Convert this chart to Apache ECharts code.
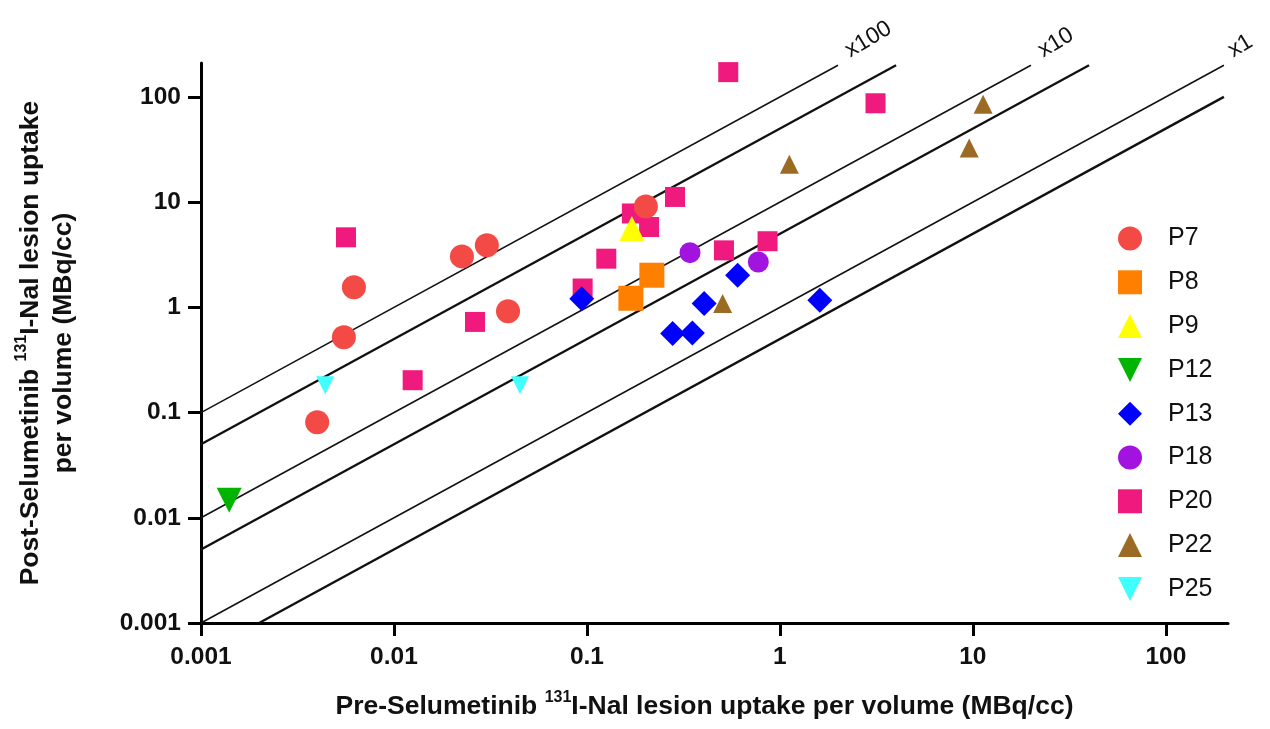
<!DOCTYPE html>
<html>
<head>
<meta charset="utf-8">
<script src="https://cdn.jsdelivr.net/npm/echarts@6/dist/echarts.min.js"></script>
<style>
  html, body { margin: 0; padding: 0; background: #fff; }
  #chart { width: 1270px; height: 729px; }
</style>
</head>
<body>
<div id="chart"></div>
<script>
// values: [pre, post] in MBq/cc
var P7 = [[0.0040, 0.081], [0.0055, 0.52], [0.0062, 1.55], [0.0225, 3.05], [0.0303, 3.9], [0.039, 0.92], [0.202, 9.1]];
var P8 = [[0.217, 2.02], [0.169, 1.22]];
var P9 = [[0.171, 5.6]];
var P12 = [[0.0014, 0.0147]];
var P13 = [[0.094, 1.21], [0.278, 0.565], [0.352, 0.57], [0.405, 1.09], [0.604, 2.02], [1.61, 1.17]];
var P18 = [[0.342, 3.31], [0.773, 2.70]];
var P20 = [[0.00564, 4.63], [0.0125, 0.203], [0.0263, 0.727], [0.095, 1.51], [0.126, 2.9], [0.171, 7.8],
           [0.21, 5.8], [0.286, 11.2], [0.513, 3.48], [0.863, 4.25], [0.54, 172], [3.13, 87]];
var P22 = [[11.3, 85], [9.57, 32.7], [1.12, 22.9], [0.505, 1.09]];
var P25 = [[0.0044, 0.182], [0.045, 0.182]];

var legendNames = ['P7', 'P8', 'P9', 'P12', 'P13', 'P18', 'P20', 'P22', 'P25'];
var tickValues = [0.001, 0.01, 0.1, 1, 10, 100];
var tickLabels = ['0.001', '0.01', '0.1', '1', '10', '100'];

// reference lines y = k * x
var thinLines = [1, 10, 100];
var thickLines = [0.5, 5, 50];
var lineTop = 200;
var axisMin = 0.001, axisMax = 210;

var font = 'Arial, "Liberation Sans", sans-serif';
var downTriangle = 'path://M0,0 L20,0 L10,20 Z';

function fmtTick(v) {
  for (var i = 0; i < tickValues.length; i++) {
    if (Math.abs(v - tickValues[i]) / tickValues[i] < 1e-6) return tickLabels[i];
  }
  return '';
}

function refLine(k, width) {
  var x0 = Math.max(axisMin, axisMin / k);
  var x1 = Math.min(lineTop, lineTop / k);
  return {
    type: 'line',
    data: [[x0, x0 * k], [x1, x1 * k]],
    symbol: 'none',
    silent: true,
    z: 1,
    lineStyle: { color: '#111', width: width },
    animation: false
  };
}

var chart = echarts.init(document.getElementById('chart'), null, { renderer: 'canvas' });

var series = [];
thinLines.forEach(function(k) { series.push(refLine(k, 1.5)); });
thickLines.forEach(function(k) { series.push(refLine(k, 2.4)); });

function pts(name, data, symbol, size, color) {
  return {
    name: name,
    type: 'scatter',
    data: data,
    symbol: symbol,
    symbolSize: size,
    itemStyle: { color: color, opacity: 1 },
    z: 3
  };
}

// P20 first so the other markers sit on top of it
series.push(pts('P20', P20, 'rect', 20, '#F0197D'));
series.push(pts('P7', P7, 'circle', 24, '#F44A46'));
series.push(pts('P8', P8, 'rect', 25, '#FF7F00'));
series.push(pts('P9', P9, 'triangle', 25, '#FFFF00'));
series.push(pts('P12', P12, downTriangle, 25, '#00B400'));
series.push(pts('P13', P13, 'diamond', 25, '#0000FF'));
series.push(pts('P18', P18, 'circle', 21, '#A313E0'));
series.push(pts('P22', P22, 'triangle', 19, '#9B6B23'));
series.push(pts('P25', P25, downTriangle, 18, '#40FFFF'));

var richName = {
  b: { fontFamily: font, fontWeight: 'bold', fontSize: 26.5, color: '#111', lineHeight: 33 },
  s: { fontFamily: font, fontWeight: 'bold', fontSize: 16, color: '#111', verticalAlign: 'top', lineHeight: 33 }
};

function axisBase() {
  return {
    type: 'log',
    logBase: 10,
    min: axisMin,
    max: axisMax,
    splitLine: { show: false },
    minorTick: { show: false },
    axisLine: { show: true, lineStyle: { color: '#000', width: 3 } },
    axisTick: { show: true, length: 13, lineStyle: { color: '#000', width: 3 } },
    axisLabel: {
      margin: 20,
      fontFamily: font,
      fontWeight: 'bold',
      fontSize: 24.5,
      color: '#111',
      showMaxLabel: false,
      formatter: fmtTick
    },
    nameLocation: 'middle',
    nameTextStyle: { rich: richName }
  };
}

var xAxis = axisBase();
xAxis.name = '{b|Pre-Selumetinib }{s|131}{b|I-Nal lesion uptake per volume (MBq/cc)}';
xAxis.nameGap = 67;
xAxis.nameTextStyle.padding = [0, 20, 0, 0];
xAxis.axisLabel.margin = 22;

var yAxis = axisBase();
yAxis.name = '{b|Post-Selumetinib }{s|131}{b|I-Nal lesion uptake}\n{b|per volume (MBq/cc)}';
yAxis.nameGap = 121;
yAxis.nameRotate = 90;

chart.setOption({
  animation: false,
  backgroundColor: '#fff',
  grid: { left: 201, right: 42, top: 63, bottom: 106 },
  legend: {
    data: legendNames,
    orient: 'vertical',
    left: 1118,
    top: 226,
    itemWidth: 24,
    itemHeight: 24,
    itemGap: 18.8,
    padding: 0,
    textStyle: { fontFamily: font, fontSize: 25, color: '#111', padding: [0, 0, 0, 21] }
  },
  xAxis: xAxis,
  yAxis: yAxis,
  series: series
});

// "x100", "x10", "x1" next to the upper end of each thin line
var angle = 31 * Math.PI / 180;
var labels = thinLines.map(function(k) {
  var ex = Math.min(lineTop, lineTop / k);
  var p = chart.convertToPixel({ gridIndex: 0 }, [ex, ex * k]);
  return {
    type: 'text',
    x: p[0] + (k === 1 ? 12 : 15),
    y: p[1] - 3,
    rotation: angle,
    style: {
      text: 'x' + k,
      fontFamily: font,
      fontSize: 23,
      fill: '#111',
      textAlign: 'left',
      textVerticalAlign: 'bottom'
    }
  };
});
chart.setOption({ graphic: labels });
</script>
</body>
</html>
